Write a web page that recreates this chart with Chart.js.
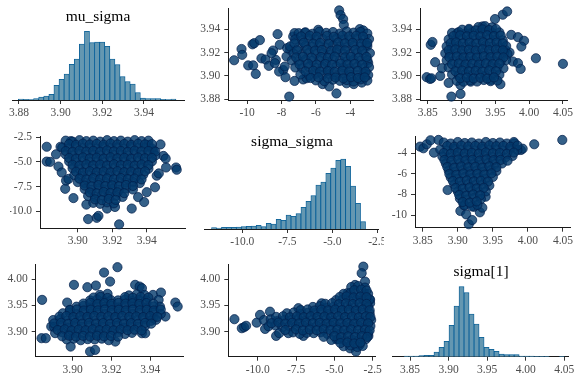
<!DOCTYPE html>
<html><head><meta charset="utf-8">
<script src="https://cdn.jsdelivr.net/npm/chart.js@4.4.0/dist/chart.umd.min.js"></script>
<style>
html,body{margin:0;padding:0;background:#fff;}
#wrap{position:relative;width:576px;height:384px;overflow:hidden;background:#fff;}
#wrap canvas{position:absolute;}
.ttl{position:absolute;font-family:"Liberation Serif","Times New Roman","DejaVu Serif",serif;font-size:15.5px;color:#000;white-space:nowrap;transform:translate(-50%,-50%);line-height:1;}
</style></head><body>
<div id="wrap"></div>
<script>
// ---------- histogram data (bin centres and counts) ----------
const muBins = [3.88092,3.88336,3.88580,3.88824,3.89068,3.89312,3.89556,3.89800,3.90044,3.90288,3.90532,3.90776,3.91020,3.91264,3.91508,3.91752,3.91996,3.92240,3.92484,3.92728,3.92972,3.93216,3.93460,3.93704,3.93948,3.94192,3.94436,3.94680,3.94924,3.95168,3.95412];
const muCounts = [3,2,1,4,9,12,17,44,62,78,107,123,168,206,172,174,174,161,123,106,70,55,48,22,6,4,4,4,2,1,3];
const ssBins = [-11.572,-11.296,-11.020,-10.744,-10.468,-10.192,-9.916,-9.640,-9.364,-9.088,-8.812,-8.536,-8.260,-7.984,-7.708,-7.432,-7.156,-6.880,-6.604,-6.328,-6.052,-5.776,-5.500,-5.224,-4.948,-4.672,-4.396,-4.120,-3.844,-3.568,-3.292];
const ssCounts = [4,3,5,5,5,6,7,8,9,11,7,17,15,29,26,42,38,46,65,83,100,132,141,167,183,206,210,188,129,77,22];
const s1Bins = [3.84525,3.85175,3.85825,3.86475,3.87125,3.87775,3.88425,3.89075,3.89725,3.90375,3.91025,3.91675,3.92325,3.92975,3.93625,3.94275,3.94925,3.95575,3.96225,3.96875,3.97525,3.98175,3.98825,3.99475,4.00125,4.00775,4.01425,4.02075,4.02725,4.03375,4.04025,4.04675];
const s1Counts = [2,2,2,3,4,4,14,28,46,94,152,210,192,128,98,58,28,22,16,8,6,6,6,2,2,2,1,1,1,0,0,1];

// ---------- tick labels ----------
const muTicks = ['3.88','3.90','3.92','3.94'];
const muTicksLower = ['3.90','3.92','3.94'];
const ssTicks = ['-10.0','-7.5','-5.0','-2.5'];
const ssTicksShort = ['-10','-8','-6','-4'];
const s1Ticks = ['3.85','3.90','3.95','4.00','4.05'];
const s1TicksLower = ['3.90','3.95','4.00'];
const ssTicksP23 = ['-10','-8','-6','-4'];

// ---------- scatter data ----------
// upper: x = sigma_sigma, y = mu_sigma
const ssMuUpper = [
[-10.76,3.9134],[-10.33,3.923],[-10.29,3.918],[-9.94,3.909],[-9.65,3.909],[-9.69,3.927],[-9.59,3.928],[-9.26,3.9306],[-9.5,3.9017],[-9.17,3.915],[-8.93,3.914],[-8.74,3.9086],[-8.49,3.9217],[-8.23,3.9357],[-8.33,3.9137],[-8.1,3.9266],[-7.9,3.905],[-7.77,3.8989],[-7.55,3.8823],[-7.51,3.9223],[-7.32,3.9337],[-7.24,3.8957],[-7.24,3.9366],[-6.74,3.897],[-6.64,3.937],[-6.54,3.898],[-5.86,3.9394],[-5.61,3.893],[-5.22,3.891],[-4.8,3.885],[-4.64,3.956],[-4.56,3.952],[-4.41,3.9486],[-4.37,3.9437],[-4.21,3.8937],[-3.79,3.893],[-3.44,3.94],[-3.32,3.8943],[-3.24,3.9389],[-2.95,3.911],[-3.05,3.9266],[-8.58,3.9194],[-8.39,3.9109],[-8.14,3.9037],[-7.81,3.908],[-7.71,3.9166],[-7.67,3.9237],
[-7.0,3.9365],[-6.6,3.9372],[-6.2,3.936],[-5.8,3.9378],[-5.4,3.9368],[-5.0,3.9375],[-4.6,3.9362],[-4.2,3.938],[-3.8,3.937],[-3.4,3.9376],[-3.0,3.9362],
[-7.2,3.9312],[-6.8,3.9305],[-6.4,3.9318],[-6.0,3.9308],[-5.6,3.9315],[-5.2,3.9302],[-4.8,3.932],[-4.4,3.931],[-4.0,3.9305],[-3.6,3.9318],[-3.2,3.9308],[-2.9,3.9315],
[-7.5,3.9252],[-7.0,3.9245],[-6.6,3.9258],[-6.2,3.9248],[-5.8,3.9255],[-5.4,3.9242],[-5.0,3.926],[-4.6,3.925],[-4.2,3.9245],[-3.8,3.9258],[-3.4,3.9248],[-3.0,3.9255],
[-7.3,3.9192],[-6.8,3.9185],[-6.4,3.9198],[-6.0,3.9188],[-5.6,3.9195],[-5.2,3.9182],[-4.8,3.92],[-4.4,3.919],[-4.0,3.9185],[-3.6,3.9198],[-3.2,3.9188],[-2.85,3.9195],
[-7.4,3.9132],[-7.0,3.9125],[-6.6,3.9138],[-6.2,3.9128],[-5.8,3.9135],[-5.4,3.9122],[-5.0,3.914],[-4.6,3.913],[-4.2,3.9125],[-3.8,3.9138],[-3.4,3.9128],[-3.0,3.9135],
[-7.2,3.9072],[-6.8,3.9065],[-6.4,3.9078],[-6.0,3.9068],[-5.6,3.9075],[-5.2,3.9062],[-4.8,3.908],[-4.4,3.907],[-4.0,3.9065],[-3.6,3.9078],[-3.2,3.9068],[-2.9,3.9075],
[-6.9,3.9012],[-6.4,3.9005],[-6.0,3.9018],[-5.6,3.9008],[-5.2,3.9015],[-4.8,3.9002],[-4.4,3.902],[-4.0,3.901],[-3.6,3.9005],[-3.2,3.9018],[-2.95,3.9008],
[-6.0,3.8962],[-5.5,3.8955],[-5.0,3.8968],[-4.6,3.8958],[-4.2,3.8965],[-3.8,3.8952],[-3.4,3.897],[-3.0,3.896],
[-6.85,3.9338],[-6.35,3.9344],[-5.95,3.9336],[-5.35,3.9342],[-4.95,3.9335],[-4.45,3.9345],[-4.05,3.9338],[-3.65,3.9343],[-3.25,3.9336],
[-7.25,3.9278],[-6.7,3.9284],[-6.15,3.9276],[-5.75,3.9282],[-5.25,3.9275],[-4.7,3.9285],[-4.3,3.9278],[-3.85,3.9283],[-3.35,3.9276],[-3.0,3.9282],
[-7.1,3.9218],[-6.5,3.9224],[-6.05,3.9216],[-5.65,3.9222],[-5.1,3.9215],[-4.75,3.9225],[-4.3,3.9218],[-3.7,3.9223],[-3.3,3.9216],
[-7.15,3.9158],[-6.75,3.9164],[-6.25,3.9156],[-5.7,3.9162],[-5.3,3.9155],[-4.9,3.9165],[-4.3,3.9158],[-3.95,3.9163],[-3.5,3.9156],[-3.05,3.9162],
[-6.95,3.9098],[-6.45,3.9104],[-5.95,3.9096],[-5.45,3.9102],[-5.05,3.9095],[-4.55,3.9105],[-4.15,3.9098],[-3.75,3.9103],[-3.3,3.9096],
[-6.6,3.9038],[-6.15,3.9044],[-5.75,3.9036],[-5.3,3.9042],[-4.9,3.9035],[-4.45,3.9045],[-4.05,3.9038],[-3.55,3.9043],[-3.1,3.9036],
[-6.3,3.8982],[-5.85,3.8988],[-5.3,3.898],[-4.85,3.8986],[-4.4,3.8979],[-3.95,3.8989],[-3.55,3.8982],[-3.15,3.8987]
];
// upper: x = sigma[1], y = mu_sigma
const s1MuUpper = [
[3.8485,3.8989],[3.8535,3.8974],[3.8555,3.898],[3.8545,3.9266],[3.857,3.929],[3.861,3.9117],[3.8685,3.9],[3.871,3.9066],[3.881,3.894],[3.885,3.8823],[3.8985,3.8846],[3.8935,3.9366],[3.911,3.9394],[3.931,3.9423],[3.9495,3.9486],[3.961,3.9523],[3.9675,3.9551],[3.9575,3.8929],[3.9735,3.9351],[3.9835,3.9331],[3.9925,3.93],[3.9885,3.9251],[3.976,3.9123],[3.9835,3.9109],[3.9875,3.906],[4.01,3.9151],[4.05,3.9103],[3.9645,3.9223],[3.971,3.92],[3.8985,3.8923],[3.9135,3.8951],[3.9435,3.8966],
[3.925,3.9418],[3.935,3.9425],[3.945,3.9415],
[3.886,3.9368],[3.896,3.9375],[3.906,3.9362],[3.916,3.9372],[3.926,3.9365],[3.936,3.9378],[3.946,3.9366],[3.956,3.9372],
[3.881,3.9312],[3.891,3.9305],[3.901,3.9318],[3.911,3.9308],[3.921,3.9315],[3.931,3.9302],[3.941,3.932],[3.951,3.931],[3.961,3.9305],
[3.878,3.9252],[3.886,3.9245],[3.896,3.9258],[3.906,3.9248],[3.916,3.9255],[3.926,3.9242],[3.936,3.926],[3.946,3.925],[3.956,3.9245],[3.966,3.9255],
[3.876,3.9192],[3.883,3.9185],[3.893,3.9198],[3.903,3.9188],[3.913,3.9195],[3.923,3.9182],[3.933,3.92],[3.943,3.919],[3.953,3.9185],[3.963,3.9198],[3.968,3.9188],
[3.878,3.9132],[3.888,3.9125],[3.898,3.9138],[3.908,3.9128],[3.918,3.9135],[3.928,3.9122],[3.938,3.914],[3.948,3.913],[3.958,3.9125],[3.966,3.9135],
[3.881,3.9072],[3.893,3.9065],[3.903,3.9078],[3.913,3.9068],[3.923,3.9075],[3.933,3.9062],[3.943,3.908],[3.953,3.907],[3.962,3.9065],
[3.886,3.9012],[3.896,3.9005],[3.906,3.9018],[3.916,3.9008],[3.926,3.9015],[3.936,3.9002],[3.946,3.902],[3.956,3.901],
[3.893,3.8958],[3.903,3.895],[3.913,3.8962],[3.923,3.8952],[3.933,3.8965],[3.943,3.8955],[3.953,3.896],
[3.901,3.9395],[3.911,3.9402],[3.921,3.939],[3.931,3.9398],[3.941,3.9392],[3.951,3.9401],
[3.888,3.934],[3.898,3.9346],[3.908,3.9338],[3.918,3.9344],[3.928,3.9337],[3.938,3.9347],[3.948,3.934],[3.958,3.9345],
[3.884,3.928],[3.892,3.9286],[3.902,3.9278],[3.912,3.9284],[3.922,3.9277],[3.932,3.9287],[3.942,3.928],[3.952,3.9285],[3.961,3.9278],
[3.881,3.922],[3.891,3.9226],[3.901,3.9218],[3.911,3.9224],[3.921,3.9217],[3.931,3.9227],[3.941,3.922],[3.951,3.9225],[3.961,3.9218],
[3.882,3.916],[3.893,3.9166],[3.903,3.9158],[3.913,3.9164],[3.923,3.9157],[3.933,3.9167],[3.943,3.916],[3.953,3.9165],[3.962,3.9158],
[3.886,3.91],[3.896,3.9106],[3.906,3.9098],[3.916,3.9104],[3.926,3.9097],[3.936,3.9107],[3.946,3.91],[3.956,3.9105],
[3.891,3.904],[3.901,3.9046],[3.911,3.9038],[3.921,3.9044],[3.931,3.9037],[3.941,3.9047],[3.951,3.904],
[3.898,3.898],[3.908,3.8986],[3.918,3.8978],[3.928,3.8984],[3.938,3.8977],[3.948,3.8987]
];
// lower: x = mu_sigma, y = sigma_sigma
const muSsLower = [
[3.882,-3.47],[3.882,-4.97],[3.884,-5.0],[3.8874,-4.23],[3.8888,-5.47],[3.89,-3.47],[3.8907,-6.07],[3.8927,-7.73],[3.8932,-6.9],[3.8946,-6.73],[3.896,-2.9],[3.8975,-8.67],[3.905,-9.33],[3.906,-10.8],[3.911,-10.67],[3.912,-10.47],[3.917,-9.73],[3.9216,-9.57],[3.924,-11.33],[3.9313,-9.73],[3.9385,-9.07],[3.935,-8.57],[3.94,-8.07],[3.9448,-7.57],[3.9458,-6.4],[3.947,-6.17],[3.9497,-4.4],[3.951,-4.67],[3.9512,-5.57],[3.957,-5.57],[3.9574,-5.8],[3.948,-3.23],[3.944,-3.9],[3.941,-3.3],
[3.893,-2.85],[3.897,-2.95],[3.901,-2.8],[3.905,-2.9],[3.909,-2.85],[3.913,-2.95],[3.917,-2.8],[3.921,-2.9],[3.925,-2.85],[3.929,-2.95],[3.933,-2.8],[3.937,-2.9],[3.941,-2.85],
[3.891,-3.55],[3.895,-3.65],[3.899,-3.5],[3.903,-3.6],[3.907,-3.55],[3.911,-3.65],[3.915,-3.5],[3.919,-3.6],[3.923,-3.55],[3.927,-3.65],[3.931,-3.5],[3.935,-3.6],[3.939,-3.55],[3.943,-3.65],
[3.893,-4.25],[3.897,-4.35],[3.901,-4.2],[3.905,-4.3],[3.909,-4.25],[3.913,-4.35],[3.917,-4.2],[3.921,-4.3],[3.925,-4.25],[3.929,-4.35],[3.933,-4.2],[3.937,-4.3],[3.941,-4.25],[3.945,-4.35],
[3.895,-4.95],[3.899,-5.05],[3.903,-4.9],[3.907,-5.0],[3.911,-4.95],[3.915,-5.05],[3.919,-4.9],[3.923,-5.0],[3.927,-4.95],[3.931,-5.05],[3.935,-4.9],[3.939,-5.0],[3.943,-4.95],
[3.897,-5.65],[3.901,-5.75],[3.905,-5.6],[3.909,-5.7],[3.913,-5.65],[3.917,-5.75],[3.921,-5.6],[3.925,-5.7],[3.929,-5.65],[3.933,-5.75],[3.937,-5.6],[3.941,-5.7],
[3.898,-6.35],[3.902,-6.45],[3.906,-6.3],[3.91,-6.4],[3.914,-6.35],[3.918,-6.45],[3.922,-6.3],[3.926,-6.4],[3.93,-6.35],[3.934,-6.45],[3.938,-6.3],
[3.9,-7.05],[3.904,-7.15],[3.908,-7.0],[3.912,-7.1],[3.916,-7.05],[3.92,-7.15],[3.924,-7.0],[3.928,-7.1],[3.932,-7.05],[3.936,-7.15],
[3.904,-7.75],[3.908,-7.85],[3.912,-7.7],[3.916,-7.8],[3.92,-7.75],[3.924,-7.85],[3.928,-7.7],[3.932,-7.8],
[3.906,-8.45],[3.91,-8.55],[3.914,-8.4],[3.918,-8.5],[3.922,-8.45],[3.926,-8.55],
[3.909,-9.15],[3.913,-9.25],[3.917,-9.1],[3.921,-9.2],
[3.895,-3.2],[3.899,-3.28],[3.903,-3.15],[3.907,-3.25],[3.911,-3.18],[3.915,-3.27],[3.919,-3.14],[3.923,-3.24],[3.927,-3.19],[3.931,-3.28],[3.935,-3.16],[3.939,-3.23],[3.943,-3.2],
[3.893,-3.9],[3.897,-3.98],[3.901,-3.85],[3.905,-3.95],[3.909,-3.88],[3.913,-3.97],[3.917,-3.84],[3.921,-3.94],[3.925,-3.89],[3.929,-3.98],[3.933,-3.86],[3.937,-3.93],[3.941,-3.9],[3.945,-3.96],
[3.895,-4.6],[3.899,-4.68],[3.903,-4.55],[3.907,-4.65],[3.911,-4.58],[3.915,-4.67],[3.919,-4.54],[3.923,-4.64],[3.927,-4.59],[3.931,-4.68],[3.935,-4.56],[3.939,-4.63],[3.943,-4.6],
[3.897,-5.3],[3.901,-5.38],[3.905,-5.25],[3.909,-5.35],[3.913,-5.28],[3.917,-5.37],[3.921,-5.24],[3.925,-5.34],[3.929,-5.29],[3.933,-5.38],[3.937,-5.26],[3.941,-5.33],
[3.899,-6.0],[3.903,-6.08],[3.907,-5.95],[3.911,-6.05],[3.915,-5.98],[3.919,-6.07],[3.923,-5.94],[3.927,-6.04],[3.931,-5.99],[3.935,-6.08],[3.939,-5.96],
[3.901,-6.7],[3.905,-6.78],[3.909,-6.65],[3.913,-6.75],[3.917,-6.68],[3.921,-6.77],[3.925,-6.64],[3.929,-6.74],[3.933,-6.69],[3.937,-6.78],
[3.904,-7.4],[3.908,-7.48],[3.912,-7.35],[3.916,-7.45],[3.92,-7.38],[3.924,-7.47],[3.928,-7.34],[3.932,-7.44],
[3.907,-8.1],[3.911,-8.18],[3.915,-8.05],[3.919,-8.15],[3.923,-8.08],[3.927,-8.17],
[3.91,-8.8],[3.914,-8.88],[3.918,-8.75],[3.922,-8.85]
];
// upper: x = sigma[1], y = sigma_sigma
const s1SsUpper = [
[3.8462,-3.35],[3.851,-3.51],[3.8558,-3.12],[3.8611,-2.73],[3.8725,-2.7],[3.866,-3.94],[4.009,-3.12],[4.049,-2.7],[3.8855,-7.57],[3.9037,-9.61],[3.912,-9.94],[3.9157,-10.9],[3.9205,-10.49],[3.9315,-9.74],[3.935,-9.29],[3.9397,-8.22],[3.9085,-9.03],[3.923,-9.2],[3.9805,-3.03],[3.99,-3.68],[3.9925,-3.55],
[3.88,-2.95],[3.89,-3.05],[3.9,-2.9],[3.91,-3.0],[3.92,-2.95],[3.93,-3.05],[3.94,-2.9],[3.95,-3.0],[3.96,-2.95],[3.97,-3.05],[3.98,-2.9],
[3.875,-3.63],[3.885,-3.73],[3.895,-3.58],[3.905,-3.68],[3.915,-3.63],[3.925,-3.73],[3.935,-3.58],[3.945,-3.68],[3.955,-3.63],[3.965,-3.73],[3.975,-3.58],[3.985,-3.68],
[3.878,-4.31],[3.888,-4.41],[3.898,-4.26],[3.908,-4.36],[3.918,-4.31],[3.928,-4.41],[3.938,-4.26],[3.948,-4.36],[3.958,-4.31],[3.968,-4.41],[3.978,-4.26],
[3.883,-4.99],[3.893,-5.09],[3.903,-4.94],[3.913,-5.04],[3.923,-4.99],[3.933,-5.09],[3.943,-4.94],[3.953,-5.04],[3.963,-4.99],
[3.887,-5.67],[3.897,-5.77],[3.907,-5.62],[3.917,-5.72],[3.927,-5.67],[3.937,-5.77],[3.947,-5.62],[3.955,-5.72],
[3.89,-6.35],[3.9,-6.45],[3.91,-6.3],[3.92,-6.4],[3.93,-6.35],[3.94,-6.45],[3.95,-6.3],
[3.895,-7.03],[3.905,-7.13],[3.915,-6.98],[3.925,-7.08],[3.935,-7.03],[3.945,-7.13],
[3.9,-7.71],[3.91,-7.81],[3.92,-7.66],[3.93,-7.76],[3.94,-7.71],
[3.903,-8.39],[3.913,-8.49],[3.923,-8.34],[3.933,-8.44],
[3.91,-9.07],[3.92,-9.17],[3.928,-9.02],
[3.885,-3.29],[3.895,-3.36],[3.905,-3.24],[3.915,-3.33],[3.925,-3.27],[3.935,-3.35],[3.945,-3.23],[3.955,-3.31],[3.965,-3.28],[3.975,-3.36],[3.985,-3.25],
[3.88,-3.97],[3.89,-4.04],[3.9,-3.92],[3.91,-4.01],[3.92,-3.95],[3.93,-4.03],[3.94,-3.91],[3.95,-3.99],[3.96,-3.96],[3.97,-4.04],[3.98,-3.93],
[3.881,-4.65],[3.891,-4.72],[3.901,-4.6],[3.911,-4.69],[3.921,-4.63],[3.931,-4.71],[3.941,-4.59],[3.951,-4.67],[3.961,-4.64],[3.971,-4.72],
[3.885,-5.33],[3.895,-5.4],[3.905,-5.28],[3.915,-5.37],[3.925,-5.31],[3.935,-5.39],[3.945,-5.27],[3.955,-5.35],
[3.888,-6.01],[3.898,-6.08],[3.908,-5.96],[3.918,-6.05],[3.928,-5.99],[3.938,-6.07],[3.948,-5.95],
[3.893,-6.69],[3.903,-6.76],[3.913,-6.64],[3.923,-6.73],[3.933,-6.67],[3.943,-6.75],
[3.897,-7.37],[3.907,-7.44],[3.917,-7.32],[3.927,-7.41],[3.937,-7.35],
[3.902,-8.05],[3.912,-8.12],[3.922,-8.0],[3.932,-8.09],
[3.907,-8.73],[3.917,-8.8],[3.927,-8.68]
];
// lower: x = mu_sigma, y = sigma[1]
const muS1Lower = [
[3.8843,3.9605],[3.884,3.8873],[3.8862,3.8873],[3.889,3.9096],[3.899,3.8713],[3.9007,3.9892],[3.8972,3.9554],[3.8986,3.9414],[3.9076,3.9847],[3.912,3.9879],[3.909,3.8618],[3.9116,3.865],[3.9162,4.0127],[3.9231,4.0229],[3.9193,3.9955],[3.922,3.8809],[3.9322,3.9892],[3.9345,3.986],[3.9357,3.9828],[3.9357,3.8968],[3.9374,3.8968],[3.9414,3.97],[3.9455,3.9745],[3.9443,3.9605],[3.9478,3.9287],[3.9529,3.9554],[3.9541,3.9478],[3.9414,3.9255],
[3.914,3.970],[3.918,3.972],[3.929,3.969],[3.933,3.971],[3.937,3.970],
[3.909,3.9595],[3.9126,3.961],[3.9162,3.958],[3.9198,3.960],[3.9234,3.9595],[3.927,3.961],[3.9306,3.958],[3.9342,3.960],[3.9378,3.9595],
[3.902,3.9475],[3.9056,3.949],[3.9092,3.946],[3.9128,3.948],[3.9164,3.9475],[3.92,3.949],[3.9236,3.946],[3.9272,3.948],[3.9308,3.9475],[3.9344,3.949],[3.938,3.946],[3.9416,3.948],[3.945,3.9475],
[3.895,3.935],[3.8986,3.9365],[3.9022,3.9335],[3.9058,3.9355],[3.9094,3.935],[3.913,3.9365],[3.9166,3.9335],[3.9202,3.9355],[3.9238,3.935],[3.9274,3.9365],[3.931,3.9335],[3.9346,3.9355],[3.9382,3.935],[3.9418,3.9365],[3.9454,3.9335],
[3.89,3.922],[3.8936,3.9235],[3.8972,3.9205],[3.9008,3.9225],[3.9044,3.922],[3.908,3.9235],[3.9116,3.9205],[3.9152,3.9225],[3.9188,3.922],[3.9224,3.9235],[3.926,3.9205],[3.9296,3.9225],[3.9332,3.922],[3.9368,3.9235],[3.9404,3.9205],[3.943,3.9225],
[3.8905,3.909],[3.8941,3.9105],[3.8977,3.9075],[3.9013,3.9095],[3.9049,3.909],[3.9085,3.9105],[3.9121,3.9075],[3.9157,3.9095],[3.9193,3.909],[3.9229,3.9105],[3.9265,3.9075],[3.9301,3.9095],[3.9337,3.909],[3.9373,3.9105],
[3.891,3.897],[3.8946,3.8985],[3.8982,3.8955],[3.9018,3.8975],[3.9054,3.897],[3.909,3.8985],[3.9126,3.8955],[3.9162,3.8975],[3.9198,3.897],[3.9234,3.8985],[3.927,3.8955],[3.9306,3.8975],
[3.897,3.885],[3.9006,3.8865],[3.9042,3.8835],[3.9078,3.8855],[3.9114,3.885],[3.915,3.8865],[3.9186,3.8835],
[3.9108,3.965],[3.9144,3.9662],[3.918,3.9642],[3.927,3.9658],[3.931,3.9645],[3.935,3.9661],[3.939,3.9648],
[3.9056,3.9535],[3.9092,3.9547],[3.9128,3.9527],[3.9164,3.9543],[3.92,3.953],[3.9236,3.9546],[3.9272,3.9533],[3.9308,3.9541],[3.9344,3.9528],[3.938,3.9545],[3.9416,3.9532],
[3.8986,3.941],[3.9022,3.9422],[3.9058,3.9402],[3.9094,3.9418],[3.913,3.9405],[3.9166,3.9421],[3.9202,3.9408],[3.9238,3.9416],[3.9274,3.9403],[3.931,3.942],[3.9346,3.9407],[3.9382,3.9415],[3.9418,3.9402],[3.9454,3.9419],
[3.8932,3.9285],[3.8968,3.9297],[3.9004,3.9277],[3.904,3.9293],[3.9076,3.928],[3.9112,3.9296],[3.9148,3.9283],[3.9184,3.9291],[3.922,3.9278],[3.9256,3.9295],[3.9292,3.9282],[3.9328,3.929],[3.9364,3.9277],[3.94,3.9294],[3.9436,3.9281],
[3.8905,3.9155],[3.8941,3.9167],[3.8977,3.9147],[3.9013,3.9163],[3.9049,3.915],[3.9085,3.9166],[3.9121,3.9153],[3.9157,3.9161],[3.9193,3.9148],[3.9229,3.9165],[3.9265,3.9152],[3.9301,3.916],[3.9337,3.9147],[3.9373,3.9164],[3.9405,3.9151],
[3.8923,3.903],[3.8959,3.9042],[3.8995,3.9022],[3.9031,3.9038],[3.9067,3.9025],[3.9103,3.9041],[3.9139,3.9028],[3.9175,3.9036],[3.9211,3.9023],[3.9247,3.904],[3.9283,3.9027],[3.9319,3.9035],[3.9355,3.9022],
[3.8946,3.891],[3.8982,3.8922],[3.9018,3.8902],[3.9054,3.8918],[3.909,3.8905],[3.9126,3.8921],[3.9162,3.8908],[3.9198,3.8916],[3.9234,3.8903]
];
// lower: x = sigma_sigma, y = sigma[1]
const ssS1Lower = [
[-11.52,3.9236],[-11.04,3.9064],[-10.89,3.9083],[-10.76,3.911],[-10.07,3.917],[-9.85,3.9318],[-9.52,3.905],[-9.2,3.938],[-8.8,3.8917],[-8.0,3.897],[-7.02,3.8917],[-7.35,3.9446],[-5.83,3.954],[-4.85,3.885],[-3.98,3.868],[-3.59,3.8618],[-3.35,3.8745],[-3.11,4.024],[-3.22,4.0115],[-3.0,3.9955],[-2.78,3.8917],[-2.67,3.9605],[-2.67,3.9541],[-3.65,3.989],[-4.15,3.9732],
[-3.9,3.985],[-3.45,3.987],[-3.0,3.984],
[-4.4,3.972],[-3.95,3.9735],[-3.5,3.9705],[-3.05,3.9725],[-2.8,3.972],
[-4.9,3.96],[-4.45,3.9615],[-4.0,3.9585],[-3.55,3.9605],[-3.1,3.96],[-2.7,3.9615],
[-6.4,3.947],[-5.95,3.9485],[-5.5,3.9455],[-5.05,3.9475],[-4.6,3.947],[-4.15,3.9485],[-3.7,3.9455],[-3.25,3.9475],[-2.8,3.947],
[-8.1,3.935],[-7.65,3.9365],[-7.2,3.9335],[-6.75,3.9355],[-6.3,3.935],[-5.85,3.9365],[-5.4,3.9335],[-4.95,3.9355],[-4.5,3.935],[-4.05,3.9365],[-3.6,3.9335],[-3.15,3.9355],[-2.7,3.935],
[-9.6,3.922],[-9.15,3.9235],[-8.7,3.9205],[-8.25,3.9225],[-7.8,3.922],[-7.35,3.9235],[-6.9,3.9205],[-6.45,3.9225],[-6.0,3.922],[-5.55,3.9235],[-5.1,3.9205],[-4.65,3.9225],[-4.2,3.922],[-3.75,3.9235],[-3.3,3.9205],[-2.85,3.9225],[-2.6,3.922],
[-9.3,3.91],[-8.85,3.9115],[-8.4,3.9085],[-7.95,3.9105],[-7.5,3.91],[-7.05,3.9115],[-6.6,3.9085],[-6.15,3.9105],[-5.7,3.91],[-5.25,3.9115],[-4.8,3.9085],[-4.35,3.9105],[-3.9,3.91],[-3.45,3.9115],[-3.0,3.9085],[-2.65,3.9105],
[-8.6,3.897],[-7.7,3.8985],[-7.25,3.8955],[-6.8,3.8975],[-6.35,3.897],[-5.9,3.8985],[-5.45,3.8955],[-5.0,3.8975],[-4.55,3.897],[-4.1,3.8985],[-3.65,3.8955],[-3.2,3.8975],[-2.8,3.897],
[-5.2,3.884],[-4.75,3.8855],[-4.3,3.8825],[-3.85,3.8845],[-3.4,3.884],[-2.95,3.8855],
[-4.4,3.872],[-3.95,3.8735],[-3.5,3.8705],[-3.15,3.8725],
[-3.7,3.979],[-3.25,3.9802],[-2.9,3.9782],
[-4.65,3.966],[-4.2,3.9672],[-3.75,3.9652],[-3.3,3.9668],[-2.9,3.9655],
[-5.6,3.953],[-5.15,3.9542],[-4.7,3.9522],[-4.25,3.9538],[-3.8,3.9525],[-3.35,3.9541],[-2.9,3.9528],
[-7.2,3.941],[-6.75,3.9422],[-6.3,3.9402],[-5.85,3.9418],[-5.4,3.9405],[-4.95,3.9421],[-4.5,3.9408],[-4.05,3.9416],[-3.6,3.9403],[-3.15,3.942],[-2.7,3.9407],
[-8.8,3.928],[-8.35,3.9292],[-7.9,3.9272],[-7.45,3.9288],[-7.0,3.9275],[-6.55,3.9291],[-6.1,3.9278],[-5.65,3.9286],[-5.2,3.9273],[-4.75,3.929],[-4.3,3.9277],[-3.85,3.9285],[-3.4,3.9272],[-2.95,3.9289],[-2.65,3.9276],
[-9.1,3.916],[-8.65,3.9172],[-8.2,3.9152],[-7.75,3.9168],[-7.3,3.9155],[-6.85,3.9171],[-6.4,3.9158],[-5.95,3.9166],[-5.5,3.9153],[-5.05,3.917],[-4.6,3.9157],[-4.15,3.9165],[-3.7,3.9152],[-3.25,3.9169],[-2.8,3.9156],
[-8.2,3.903],[-7.5,3.9042],[-7.05,3.9022],[-6.6,3.9038],[-6.15,3.9025],[-5.7,3.9041],[-5.25,3.9028],[-4.8,3.9036],[-4.35,3.9023],[-3.9,3.904],[-3.45,3.9027],[-3.0,3.9035],[-2.7,3.9022],
[-5.7,3.89],[-5.0,3.8912],[-4.55,3.8892],[-4.1,3.8908],[-3.65,3.8895],[-3.2,3.8911],[-2.85,3.8898],
[-4.6,3.878],[-4.15,3.8792],[-3.7,3.8772],[-3.3,3.8788]
];

// ---------- rendering ----------
Chart.defaults.font.family = '"Liberation Serif","Times New Roman","DejaVu Serif",serif';
Chart.defaults.font.size = 11.5;
Chart.defaults.color = '#4d4d4d';
Chart.defaults.animation = false;
Chart.defaults.events = [];
Chart.defaults.plugins.legend.display = false;
Chart.defaults.plugins.tooltip.enabled = false;

const CELL_W = 192, CELL_H = 128, Y_AXIS_W = 30, X_AXIS_H = 20, HIST_MAX = 222;
const wrap = document.getElementById('wrap');

function makeAxis(min, max, labels, isX) {
  return {
    type: 'linear', min: min, max: max, offset: false, bounds: 'data',
    afterBuildTicks: function (s) { s.ticks = labels.map(function (t) { return { value: parseFloat(t) }; }); },
    afterFit: function (s) {
      if (isX) s.height = X_AXIS_H; else s.width = Y_AXIS_W;
      s.paddingLeft = 0; s.paddingRight = 0; s.paddingTop = 0; s.paddingBottom = 0;
    },
    ticks: { autoSkip: false, maxRotation: 0, minRotation: 0, padding: isX ? 2 : 4, color: '#4d4d4d',
      callback: function (v, i) { return labels[i]; } },
    grid: { display: true, drawOnChartArea: false, drawTicks: true, tickLength: 4, color: '#333333', lineWidth: 1, offset: false },
    border: { display: true, color: '#1a1a1a', width: 1 }
  };
}

function addPanel(col, row, area, config) {
  const cv = document.createElement('canvas');
  cv.width = CELL_W; cv.height = CELL_H;
  cv.style.left = (col * CELL_W) + 'px'; cv.style.top = (row * CELL_H) + 'px';
  cv.style.width = CELL_W + 'px'; cv.style.height = CELL_H + 'px';
  wrap.appendChild(cv);
  const l = area.l - col * CELL_W, t = area.t - row * CELL_H, r = area.r - col * CELL_W, b = area.b - row * CELL_H;
  const hasY = config.type === 'scatter';
  config.options.layout = { padding: { left: l - (hasY ? Y_AXIS_W : 0), top: t, right: CELL_W - r, bottom: CELL_H - b - X_AXIS_H } };
  config.options.responsive = false;
  config.options.maintainAspectRatio = false;
  config.options.devicePixelRatio = 1;
  return new Chart(cv, config);
}

function histConfig(bins, counts, xMin, xMax, labels) {
  return {
    type: 'bar',
    data: { datasets: [{
      data: bins.map(function (c, i) { return { x: c, y: counts[i] }; }),
      backgroundColor: '#6497b1', borderColor: '#005b96', borderWidth: 0.8,
      barPercentage: 1, categoryPercentage: 1, borderSkipped: 'start'
    }] },
    options: { scales: {
      x: makeAxis(xMin, xMax, labels, true),
      y: { type: 'linear', display: false, min: 0, max: HIST_MAX }
    } }
  };
}

function scatterConfig(pts, xMin, xMax, xLabels, yMin, yMax, yLabels) {
  return {
    type: 'scatter',
    data: { datasets: [{
      data: pts.map(function (p) { return { x: p[0], y: p[1] }; }),
      pointRadius: 4.6, pointBorderWidth: 0.8,
      backgroundColor: 'rgba(3,57,108,0.8)', borderColor: 'rgba(1,31,75,0.9)', clip: false
    }] },
    options: { scales: {
      x: makeAxis(xMin, xMax, xLabels, true),
      y: makeAxis(yMin, yMax, yLabels, false)
    } }
  };
}

// row 1
addPanel(0, 0, { l: 12.7, t: 26, r: 184, b: 100 }, histConfig(muBins, muCounts, 3.877, 3.9592, muTicks));
addPanel(1, 0, { l: 228.3, t: 8.3, r: 373, b: 100 }, scatterConfig(ssMuUpper, -11.1, -2.67, ssTicksShort, 3.8794, 3.9578, muTicks));
addPanel(2, 0, { l: 420, t: 8.3, r: 567, b: 100 }, scatterConfig(s1MuUpper, 3.8386, 4.056, s1Ticks, 3.8794, 3.9578, muTicks));
// row 2
addPanel(0, 1, { l: 40, t: 136.7, r: 185, b: 228.3 }, scatterConfig(muSsLower, 3.8781, 3.9622, muTicksLower, -11.73, -2.45, ssTicks));
addPanel(1, 1, { l: 204, t: 155, r: 378, b: 229 }, histConfig(ssBins, ssCounts, -12.128, -2.461, ssTicks));
addPanel(2, 1, { l: 415, t: 136.7, r: 570, b: 227.7 }, scatterConfig(s1SsUpper, 3.839, 4.06, s1Ticks, -11.235, -2.385, ssTicksP23));
// row 3
addPanel(0, 2, { l: 35.7, t: 264, r: 183.3, b: 356.7 }, scatterConfig(muS1Lower, 3.881, 3.957, muTicksLower, 3.852, 4.029, s1TicksLower));
addPanel(1, 2, { l: 228.3, t: 264, r: 375, b: 356.7 }, scatterConfig(ssS1Lower, -11.92, -2.35, ssTicks, 3.852, 4.029, s1TicksLower));
addPanel(2, 2, { l: 392, t: 282.7, r: 568, b: 356.7 }, histConfig(s1Bins, s1Counts, 3.8266, 4.0548, s1Ticks));

// titles
[['mu_sigma', 98, 16], ['sigma_sigma', 292, 141], ['sigma[1]', 481, 271]].forEach(function (t) {
  const d = document.createElement('div');
  d.className = 'ttl'; d.textContent = t[0];
  d.style.left = t[1] + 'px'; d.style.top = t[2] + 'px';
  wrap.appendChild(d);
});
</script>
</body></html>
